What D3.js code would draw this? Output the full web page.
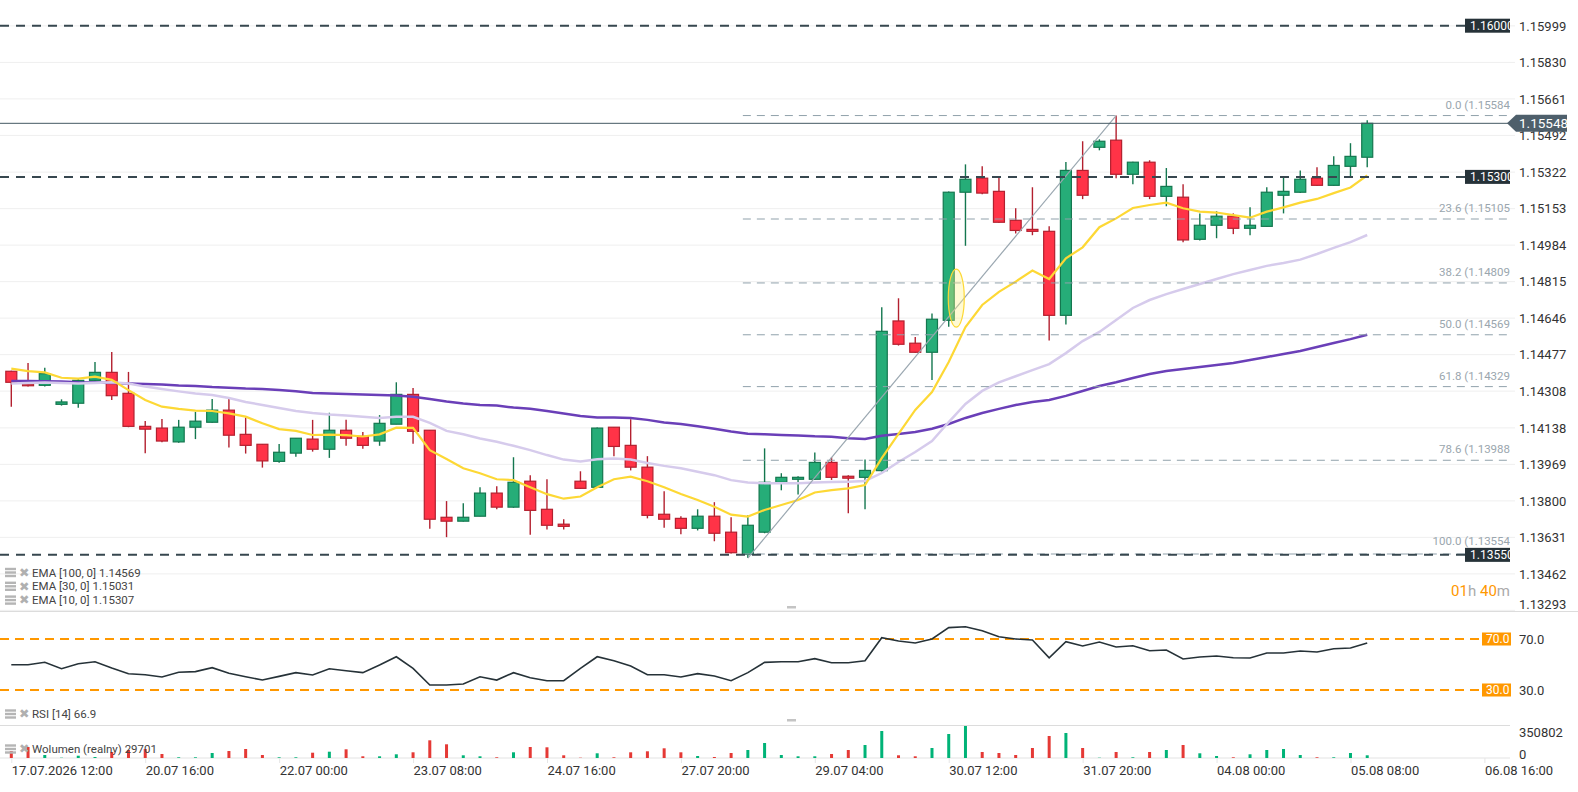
<!DOCTYPE html>
<html>
<head>
<meta charset="utf-8">
<script src="https://cdn.jsdelivr.net/npm/d3@7"></script>
<style>
  body { margin: 0; background: #fff; }
  svg { display: block; font-family: Roboto, "Noto Sans", sans-serif; }
</style>
</head>
<body>
<div id="chart"></div>
<script>
// candles (4h)
const opens = [1.14400,1.14340,1.14335,1.14247,1.14252,1.14358,1.14395,1.14298,1.14145,1.14137,
  1.14073,1.14141,1.14164,1.14220,1.14108,1.14062,1.13983,1.14021,1.14086,1.14039,
  1.14127,1.14099,1.14077,1.14155,1.14293,1.14127,1.13724,1.13706,1.13729,1.13836,
  1.13771,1.13891,1.13761,1.13692,1.13891,1.13863,1.14141,1.14057,1.13956,1.13738,
  1.13719,1.13673,1.13729,1.13655,1.13552,1.13655,1.13886,1.13900,1.13900,1.13978,
  1.13914,1.13909,1.13940,1.14633,1.14530,1.14488,1.14636,1.15229,1.15294,1.15233,
  1.15099,1.15057,1.15048,1.14659,1.15330,1.15437,1.15470,1.15312,1.15368,1.15210,
  1.15206,1.15011,1.15076,1.15118,1.15062,1.15071,1.15215,1.15229,1.15294,1.15261,
  1.15349,1.15391];
const highs = [1.14402,1.14438,1.14416,1.14270,1.14364,1.14443,1.14489,1.14397,1.14170,1.14179,
  1.14175,1.14212,1.14272,1.14275,1.14186,1.14062,1.14063,1.14090,1.14175,1.14208,
  1.14175,1.14119,1.14197,1.14349,1.14323,1.14127,1.13799,1.13789,1.13863,1.13868,
  1.14002,1.13919,1.13900,1.13715,1.13937,1.14140,1.14141,1.14178,1.14007,1.13845,
  1.13729,1.13761,1.13794,1.13724,1.13733,1.14043,1.13928,1.13914,1.14024,1.14002,
  1.13919,1.13992,1.14696,1.14738,1.14559,1.14668,1.15232,1.15358,1.15349,1.15298,
  1.15155,1.15252,1.15071,1.15369,1.15465,1.15474,1.15584,1.15370,1.15377,1.15341,
  1.15266,1.15131,1.15141,1.15131,1.15159,1.15252,1.15298,1.15330,1.15345,1.15395,
  1.15456,1.15562];
const lows = [1.14236,1.14330,1.14329,1.14241,1.14231,1.14355,1.14267,1.14141,1.14021,1.14071,
  1.14069,1.14086,1.14162,1.14047,1.14019,1.13954,1.13977,1.14004,1.14028,1.13999,
  1.14055,1.14041,1.14055,1.14155,1.14065,1.13671,1.13632,1.13704,1.13729,1.13761,
  1.13768,1.13643,1.13668,1.13668,1.13855,1.13860,1.14007,1.13941,1.13719,1.13675,
  1.13645,1.13663,1.13613,1.13556,1.13535,1.13650,1.13849,1.13829,1.13898,1.13897,
  1.13743,1.13761,1.13936,1.14519,1.14486,1.14360,1.14606,1.14981,1.15220,1.15088,
  1.15038,1.15030,1.14543,1.14617,1.15197,1.15423,1.15294,1.15266,1.15197,1.15164,
  1.14997,1.15006,1.15016,1.15035,1.15030,1.15069,1.15131,1.15225,1.15259,1.15259,
  1.15303,1.15345];
const closes = [1.14349,1.14333,1.14389,1.14258,1.14358,1.14395,1.14287,1.14145,1.14132,1.14077,
  1.14141,1.14169,1.14220,1.14104,1.14057,1.13985,1.14025,1.14090,1.14039,1.14127,
  1.14090,1.14057,1.14159,1.14293,1.14122,1.13715,1.13706,1.13724,1.13836,1.13771,
  1.13886,1.13756,1.13687,1.13682,1.13858,1.14137,1.14052,1.13956,1.13733,1.13715,
  1.13673,1.13729,1.13650,1.13560,1.13687,1.13886,1.13909,1.13909,1.13978,1.13909,
  1.13905,1.13941,1.14585,1.14525,1.14488,1.14641,1.15229,1.15289,1.15225,1.15090,
  1.15052,1.15048,1.14659,1.15330,1.15215,1.15465,1.15312,1.15368,1.15210,1.15256,
  1.15008,1.15076,1.15118,1.15062,1.15076,1.15229,1.15233,1.15289,1.15261,1.15353,
  1.15395,1.15548];

const ema10 = [1.14412,1.14401,1.14395,1.14370,1.14366,1.14375,1.14360,1.14313,1.14267,1.14236,
  1.14226,1.14218,1.14216,1.14205,1.14190,1.14159,1.14132,1.14124,1.14105,1.14107,
  1.14104,1.14098,1.14108,1.14139,1.14138,1.14035,1.13994,1.13951,1.13928,1.13900,
  1.13896,1.13863,1.13831,1.13810,1.13820,1.13863,1.13900,1.13912,1.13891,1.13863,
  1.13832,1.13804,1.13773,1.13736,1.13727,1.13758,1.13781,1.13804,1.13839,1.13850,
  1.13858,1.13873,1.13998,1.14110,1.14221,1.14304,1.14443,1.14605,1.14707,1.14768,
  1.14815,1.14866,1.14827,1.14923,1.14974,1.15067,1.15108,1.15156,1.15170,1.15181,
  1.15155,1.15139,1.15135,1.15123,1.15111,1.15139,1.15159,1.15181,1.15198,1.15225,
  1.15251,1.15307];
const ema30 = [1.14343,1.14346,1.14348,1.14346,1.14343,1.14346,1.14349,1.14343,1.14329,1.14318,
  1.14307,1.14297,1.14290,1.14276,1.14258,1.14244,1.14230,1.14216,1.14207,1.14200,
  1.14195,1.14189,1.14184,1.14189,1.14189,1.14161,1.14124,1.14108,1.14089,1.14074,
  1.14055,1.14035,1.14012,1.13991,1.13982,1.13993,1.13996,1.13991,1.13975,1.13962,
  1.13951,1.13935,1.13919,1.13896,1.13885,1.13882,1.13881,1.13882,1.13885,1.13887,
  1.13889,1.13892,1.13929,1.13980,1.14026,1.14077,1.14165,1.14249,1.14309,1.14349,
  1.14377,1.14405,1.14433,1.14484,1.14540,1.14582,1.14637,1.14693,1.14730,1.14757,
  1.14781,1.14804,1.14827,1.14850,1.14869,1.14888,1.14901,1.14917,1.14943,1.14971,
  1.14998,1.15031];
const ema100 = [1.14355,1.14355,1.14354,1.14353,1.14349,1.14348,1.14346,1.14343,1.14341,1.14339,
  1.14334,1.14332,1.14327,1.14324,1.14320,1.14318,1.14313,1.14307,1.14299,1.14297,
  1.14295,1.14293,1.14290,1.14288,1.14282,1.14272,1.14260,1.14251,1.14244,1.14241,
  1.14232,1.14226,1.14216,1.14205,1.14193,1.14186,1.14186,1.14184,1.14175,1.14163,
  1.14156,1.14145,1.14134,1.14121,1.14111,1.14108,1.14105,1.14103,1.14099,1.14097,
  1.14090,1.14087,1.14101,1.14110,1.14119,1.14134,1.14156,1.14184,1.14207,1.14226,
  1.14244,1.14258,1.14267,1.14286,1.14309,1.14332,1.14349,1.14369,1.14387,1.14401,
  1.14411,1.14420,1.14429,1.14438,1.14452,1.14466,1.14480,1.14494,1.14512,1.14531,
  1.14549,1.14569];

const rsi = [49.8,49.8,51.7,46.7,50.6,52.2,47.3,42.8,42.0,40.2,
  43.9,44.4,47.5,43.1,40.4,37.8,40.7,43.6,41.8,46.7,
  45.1,43.6,49.6,56.1,47.0,33.9,33.9,34.7,40.4,37.8,
  43.6,39.6,37.3,37.3,47.0,56.1,53.0,48.8,42.0,42.0,
  40.2,42.8,41.0,37.3,43.6,51.7,52.2,52.2,54.6,51.4,
  51.4,53.0,71.0,68.4,66.9,70.0,78.9,79.6,76.5,71.8,
  70.0,69.2,55.3,67.9,64.5,67.6,63.7,64.7,60.8,61.4,
  54.3,55.9,56.7,55.3,55.1,59.0,59.0,60.6,59.8,62.4,
  62.9,66.9];

const volumes = [76700,120600,32900,3300,25200,11000,65800,87700,98700,43900,
  7700,7700,54800,76700,98700,32900,7700,7700,58100,69100,
  95400,18600,18600,40600,62500,194000,150200,29600,18600,7700,
  62500,120600,117300,29600,3300,51500,7700,62500,73500,106300,
  62500,21900,11000,54800,87700,164400,32900,18600,18600,43900,
  87700,142500,296000,29600,18600,109600,263100,350802,65800,54800,
  32900,109600,241200,274100,109600,3300,65800,7700,65800,87700,
  142500,51500,21900,7700,40600,87700,98700,32900,7700,7700,
  54800,29701];

const priceTicks = [1.15999,1.15830,1.15661,1.15492,1.15322,1.15153,1.14984,1.14815,1.14646,
  1.14477,1.14308,1.14138,1.13969,1.13800,1.13631,1.13462,1.13293];
const tickIdx = [0,8,16,24,32,40,48,56,64,72,80,88];
const tickLabels = ["17.07.2026 12:00","20.07 16:00","22.07 00:00","23.07 08:00","24.07 16:00",
  "27.07 20:00","29.07 04:00","30.07 12:00","31.07 20:00","04.08 00:00","05.08 08:00","06.08 16:00"];

const keyLevels = [1.16000, 1.15300, 1.13550];
const fibNames = ["0.0","23.6","38.2","50.0","61.8","78.6","100.0"];
const fibPrices = [1.15584,1.15105,1.14809,1.14569,1.14329,1.13988,1.13554];
const fibFrom = 44, fibTo = 66;
const lastPrice = 1.15548;

const legendLines = ["EMA [100, 0] 1.14569","EMA [30, 0] 1.15031","EMA [10, 0] 1.15307"];

// ---------------------------------------------------------------
const width = 1578, height = 792, plotR = 1510;

const svg = d3.select("#chart").append("svg")
  .attr("width", width).attr("height", height);

const x = d3.scaleLinear().domain([0, 88]).range([11.3, 1484.4]);
const y = d3.scaleLinear().domain([1.13554, 1.16000]).range([554, 25.7]);
const yR = d3.scaleLinear().domain([30, 70]).range([690, 639]);
const yV = d3.scaleLinear().domain([0, 350802]).range([758, 726]);

svg.append("defs").append("clipPath").attr("id", "pclip")
  .append("rect").attr("x", 0).attr("y", 0).attr("width", plotR).attr("height", 611);

const green = "#26ad78", greenDk = "#14774f", red = "#ff3347", redDk = "#b3202f";

// grid
svg.append("g").selectAll("line").data(priceTicks).join("line")
  .attr("x1", 0).attr("x2", 1515)
  .attr("y1", d => y(d)).attr("y2", d => y(d))
  .attr("stroke", "#efefef");

// right axis
const yAxis = svg.append("g").attr("transform", `translate(1519,0)`)
  .call(d3.axisRight(y).tickValues(priceTicks).tickSize(0).tickPadding(0).tickFormat(d3.format(".5f")));
yAxis.select(".domain").remove();
yAxis.selectAll("text").attr("font-size", 13).attr("fill", "#333")
  .attr("font-family", "Roboto")
  .attr("y", d => Math.min(y(d), 604) - y(d));

const plot = svg.append("g").attr("clip-path", "url(#pclip)");
const idx = d3.range(opens.length);

// candles
const candle = plot.append("g").selectAll("g").data(idx).join("g");
candle.append("line")
  .attr("x1", i => x(i)).attr("x2", i => x(i))
  .attr("y1", i => y(highs[i])).attr("y2", i => y(lows[i]))
  .attr("stroke", i => closes[i] >= opens[i] ? greenDk : redDk).attr("stroke-width", 1.4);
candle.append("rect")
  .attr("x", i => x(i) - 5.5).attr("width", 11)
  .attr("y", i => y(Math.max(opens[i], closes[i])))
  .attr("height", i => Math.max(1.5, Math.abs(y(opens[i]) - y(closes[i]))))
  .attr("fill", i => closes[i] >= opens[i] ? green : red)
  .attr("stroke", i => closes[i] >= opens[i] ? greenDk : redDk).attr("stroke-width", 1.2);

// moving averages
const line = arr => d3.line().x((d, i) => x(i)).y(d => y(d))(arr);
plot.append("path").attr("d", line(ema100)).attr("fill", "none").attr("stroke", "#6a3fb8").attr("stroke-width", 2.5);
plot.append("path").attr("d", line(ema30)).attr("fill", "none").attr("stroke", "#d6cbec").attr("stroke-width", 2.5);
plot.append("path").attr("d", line(ema10)).attr("fill", "none").attr("stroke", "#fdd835").attr("stroke-width", 2.2);

// fibonacci drawing
const fib = plot.append("g");
fib.selectAll("line").data(fibPrices).join("line")
  .attr("x1", x(fibFrom) - 5).attr("x2", plotR)
  .attr("y1", d => y(d)).attr("y2", d => y(d))
  .attr("stroke", "#90a1ab").attr("stroke-width", 1).attr("stroke-dasharray", "8,6");
fib.selectAll("text").data(fibPrices).join("text")
  .attr("x", 1514).attr("y", (d, i) => y(d) - (i === 6 ? 9 : 7))
  .attr("text-anchor", "end").attr("font-size", 11.5).attr("fill", "#9aa6ae")
  .text((d, i) => `${fibNames[i]} (${d3.format(".5f")(d)})`);
plot.append("line")
  .attr("x1", x(fibFrom)).attr("y1", y(lows[fibFrom]))
  .attr("x2", x(fibTo)).attr("y2", y(highs[fibTo]))
  .attr("stroke", "#9aa7b0").attr("stroke-width", 1.2);

// yellow marker
plot.append("ellipse")
  .attr("cx", x(56.45)).attr("cy", y(1.14739)).attr("rx", 8).attr("ry", 29)
  .attr("fill", "rgba(255,240,130,0.35)").attr("stroke", "#fdd835").attr("stroke-width", 1.2);

// key horizontal levels
plot.append("g").selectAll("line").data(keyLevels).join("line")
  .attr("x1", 0).attr("x2", 1465)
  .attr("y1", d => y(d)).attr("y2", d => y(d))
  .attr("stroke", "#37474f").attr("stroke-width", 2).attr("stroke-dasharray", "9,7");
const kl = plot.append("g").selectAll("g").data(keyLevels).join("g")
  .attr("transform", d => `translate(1465,${y(d)})`);
kl.append("rect").attr("x", 0).attr("y", -7).attr("width", 50).attr("height", 14).attr("fill", "#263238");
kl.append("text").attr("x", 5).attr("y", 0).attr("dy", "0.35em")
  .attr("font-size", 12).attr("fill", "#fff").text(d => d3.format(".5f")(d));

// last price line + tag
svg.append("line").attr("x1", 0).attr("x2", 1508)
  .attr("y1", y(lastPrice)).attr("y2", y(lastPrice)).attr("stroke", "#455a64").attr("stroke-width", 1);
const ly = y(lastPrice);
svg.append("path")
  .attr("d", `M1507,${ly} L1516,${ly - 8.5} L1567,${ly - 8.5} L1567,${ly + 8.5} L1516,${ly + 8.5} Z`)
  .attr("fill", "#4e5f6b");
svg.append("text").attr("x", 1519).attr("y", ly).attr("dy", "0.35em")
  .attr("font-size", 13.5).attr("fill", "#fff").text(d3.format(".5f")(lastPrice));

// countdown
const cd = svg.append("text").attr("x", 1510).attr("y", 591).attr("dy", "0.35em")
  .attr("text-anchor", "end").attr("font-size", 15);
cd.append("tspan").attr("fill", "#ff9800").text("01");
cd.append("tspan").attr("fill", "#aaa").text("h ");
cd.append("tspan").attr("fill", "#ff9800").text("40");
cd.append("tspan").attr("fill", "#aaa").text("m");

// legend
function legendIcon(g, yy) {
  [-3.5, 0, 3.5].forEach(o => g.append("rect").attr("x", 5).attr("y", yy + o - 1.2).attr("width", 11).attr("height", 2.4).attr("fill", "#b5b5b5"));
  g.append("text").attr("x", 19).attr("y", yy).attr("dy", "0.35em").attr("font-size", 12.5)
    .attr("fill", "#b0b0b0").attr("font-family", "DejaVu Sans").text("✖");
}
const leg = svg.append("g");
legendLines.forEach((t, i) => {
  const yy = 572.5 + i * 13.8;
  legendIcon(leg, yy);
  leg.append("text").attr("x", 32).attr("y", yy).attr("dy", "0.35em")
    .attr("font-size", 11.5).attr("fill", "#444").text(t);
});

// panel separators
svg.append("line").attr("x1", 0).attr("x2", width).attr("y1", 611.5).attr("y2", 611.5).attr("stroke", "#dcdcdc");
svg.append("line").attr("x1", 0).attr("x2", plotR).attr("y1", 725.5).attr("y2", 725.5).attr("stroke", "#dcdcdc");
svg.append("rect").attr("x", 787).attr("y", 606).attr("width", 9).attr("height", 2.5).attr("fill", "#c4c4c4");
svg.append("rect").attr("x", 787).attr("y", 719).attr("width", 9).attr("height", 2.5).attr("fill", "#c4c4c4");

// RSI panel
const rsiLevels = [70, 30];
svg.append("g").selectAll("line").data(rsiLevels).join("line")
  .attr("x1", 0).attr("x2", 1482)
  .attr("y1", d => yR(d)).attr("y2", d => yR(d))
  .attr("stroke", "#ff9800").attr("stroke-width", 2).attr("stroke-dasharray", "9,6");
const rl = svg.append("g").selectAll("g").data(rsiLevels).join("g")
  .attr("transform", d => `translate(1482,${yR(d)})`);
rl.append("rect").attr("x", 0).attr("y", -6.5).attr("width", 29).attr("height", 13).attr("fill", "#ff9800");
rl.append("text").attr("x", 4).attr("dy", "0.35em").attr("font-size", 12).attr("fill", "#fff").text(d => d.toFixed(1));
svg.append("g").selectAll("text").data(rsiLevels).join("text")
  .attr("x", 1519).attr("y", d => yR(d)).attr("dy", "0.35em")
  .attr("font-size", 13).attr("fill", "#333").text(d => d.toFixed(1));
svg.append("path").attr("d", d3.line().x((d, i) => x(i)).y(d => yR(d))(rsi))
  .attr("fill", "none").attr("stroke", "#263238").attr("stroke-width", 1.6);
legendIcon(svg, 714);
svg.append("text").attr("x", 32).attr("y", 714).attr("dy", "0.35em")
  .attr("font-size", 11.5).attr("fill", "#444").text("RSI [14] 66.9");

// volume panel
svg.append("line").attr("x1", 0).attr("x2", plotR).attr("y1", 758).attr("y2", 758).attr("stroke", "#e3e3e3");
svg.append("g").selectAll("rect").data(idx).join("rect")
  .attr("x", i => x(i) - 1.5).attr("width", 3)
  .attr("y", i => yV(volumes[i]))
  .attr("height", i => yV(0) - yV(volumes[i]))
  .attr("fill", i => closes[i] >= opens[i] ? "#00b377" : "#e53935");
svg.append("text").attr("x", 1519).attr("y", 732).attr("dy", "0.35em").attr("font-size", 13).attr("fill", "#333").text("350802");
svg.append("text").attr("x", 1519).attr("y", 754).attr("dy", "0.35em").attr("font-size", 13).attr("fill", "#333").text("0");
legendIcon(svg, 749);
svg.append("text").attr("x", 32).attr("y", 749).attr("dy", "0.35em")
  .attr("font-size", 11.5).attr("fill", "#444").text("Wolumen (realny) 29701");

// time axis
const xAxis = svg.append("g").attr("transform", "translate(0,758)")
  .call(d3.axisBottom(x).tickValues(tickIdx).tickSize(5).tickPadding(3)
    .tickFormat((d, i) => tickLabels[i]));
xAxis.select(".domain").remove();
xAxis.selectAll("line").attr("stroke", "#e6e6e6");
xAxis.selectAll("text").attr("text-anchor", "start").attr("font-size", 13)
  .attr("fill", "#333").attr("font-family", "Roboto");
</script>
</body>
</html>
